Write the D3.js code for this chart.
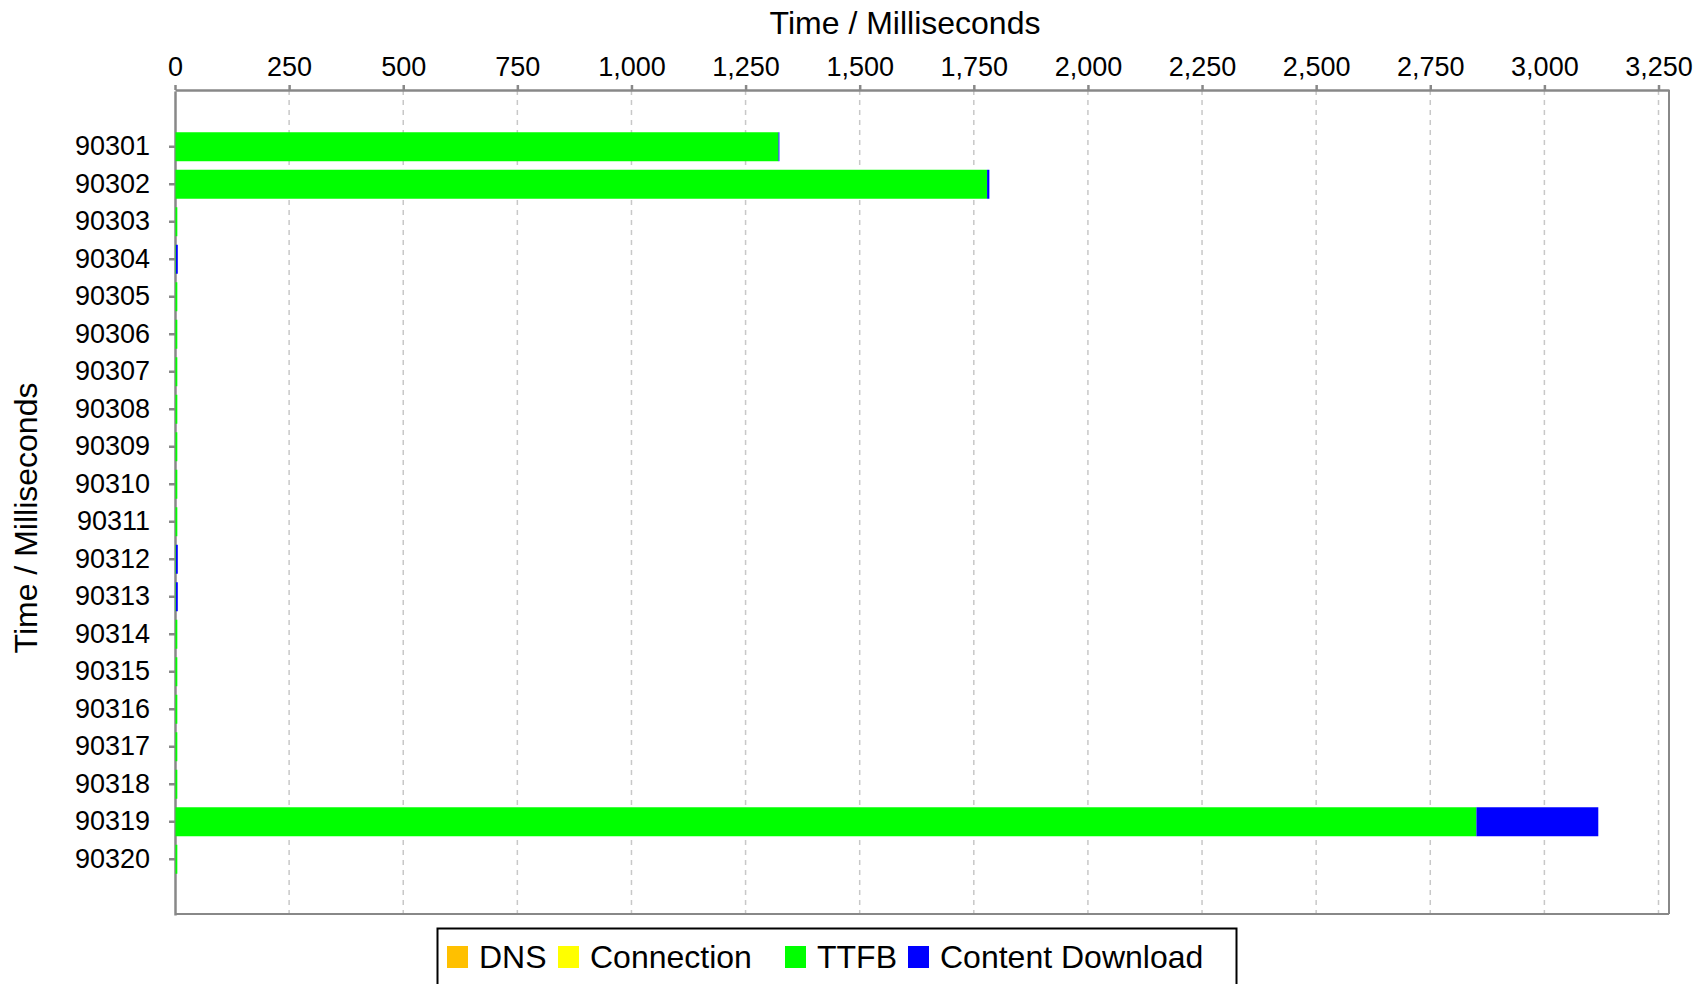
<!DOCTYPE html>
<html>
<head>
<meta charset="utf-8">
<script src="https://cdn.jsdelivr.net/npm/d3@7"></script>
<style>
  body { margin: 0; background: #fff; }
  text { font-family: "Liberation Sans", Arial, sans-serif; fill: #000; }
</style>
</head>
<body>
<div id="chart"></div>
<script>
// request ids down the side
var categories = ["90301", "90302", "90303", "90304", "90305", "90306", "90307", "90308", "90309", "90310",
                  "90311", "90312", "90313", "90314", "90315", "90316", "90317", "90318", "90319", "90320"];

// ms per phase
var dnsValues        = [0, 0, 0, 0, 0, 0, 0, 0, 0, 0, 0, 0, 0, 0, 0, 0, 0, 0, 0, 0];
var connectionValues = [0, 0, 0, 0, 0, 0, 0, 0, 0, 0, 0, 0, 0, 0, 0, 0, 0, 0, 0, 0];
var ttfbValues       = [1321, 1778, 4, 1, 4, 4, 4, 4, 4, 4, 4, 1, 1, 4, 4, 4, 4, 4, 2850, 4];
var downloadValues   = [2, 5, 0, 4, 0, 0, 0, 0, 0, 0, 0, 4, 4, 0, 0, 0, 0, 0, 267, 0];

var xTicks = [0, 250, 500, 750, 1000, 1250, 1500, 1750, 2000, 2250, 2500, 2750, 3000, 3250];
var xMax = 3273;

var seriesNames = ["DNS", "Connection", "TTFB", "Content Download"];
var seriesColors = ["#FFC000", "#FFFF00", "#00FF00", "#0000FF"];

var width = 1703, height = 984;
var margin = {top: 90, right: 34, bottom: 70, left: 175};

var table = categories.map(function(c, i) {
    return {id: c, "DNS": dnsValues[i], "Connection": connectionValues[i],
            "TTFB": ttfbValues[i], "Content Download": downloadValues[i]};
});

var stacked = d3.stack().keys(seriesNames)(table);

var xScale = d3.scaleLinear()
    .domain([0, xMax])
    .range([margin.left, width - margin.right]);

var yScale = d3.scaleBand()
    .domain(categories)
    .range([margin.top + 1, height - margin.bottom + 1])
    .paddingInner(0.227)
    .paddingOuter(1.1);

var color = d3.scaleOrdinal().domain(seriesNames).range(seriesColors);

var svg = d3.select("#chart").append("svg")
    .attr("width", width)
    .attr("height", height);

// dashed grid
svg.append("g")
    .selectAll("line")
    .data(xTicks.slice(1))
    .enter()
    .append("line")
        .attr("x1", function(d) { return xScale(d); })
        .attr("x2", function(d) { return xScale(d); })
        .attr("y1", margin.top)
        .attr("y2", height - margin.bottom)
        .style("stroke", "#c8c8c8")
        .style("stroke-width", 1.5)
        .style("stroke-dasharray", "5,5");

// frame: right + bottom
svg.append("line")
    .attr("x1", width - margin.right).attr("x2", width - margin.right)
    .attr("y1", margin.top).attr("y2", height - margin.bottom)
    .style("stroke", "#888").style("stroke-width", 2);
svg.append("line")
    .attr("x1", margin.left).attr("x2", width - margin.right)
    .attr("y1", height - margin.bottom).attr("y2", height - margin.bottom)
    .style("stroke", "#888").style("stroke-width", 2);

var xAxis = svg.append("g")
    .attr("transform", "translate(0," + margin.top + ")")
    .call(d3.axisTop(xScale).tickValues(xTicks).tickFormat(d3.format(",")).tickSize(5).tickSizeOuter(0).tickPadding(9));

var yAxis = svg.append("g")
    .attr("transform", "translate(" + margin.left + ",0)")
    .call(d3.axisLeft(yScale).tickSize(6).tickSizeOuter(0).tickPadding(19));

[xAxis, yAxis].forEach(function(ax) {
    ax.select(".domain").style("stroke", "#888").style("stroke-width", 2.5);
    ax.selectAll(".tick line").style("stroke", "#888").style("stroke-width", 2.5);
    ax.selectAll(".tick text")
        .style("font-family", "'Liberation Sans', Arial, sans-serif")
        .style("font-size", "27px")
        .style("fill", "#000");
});

// bars on top of the axis line, so the tiny ones still show
svg.append("g")
    .selectAll("g")
    .data(stacked)
    .enter()
    .append("g")
        .style("fill", function(d) { return color(d.key); })
    .selectAll("rect")
    .data(function(d) { return d; })
    .enter()
    .append("rect")
        .attr("x", function(d) { return xScale(d[0]) + 0.5; })
        .attr("y", function(d) { return yScale(d.data.id); })
        .attr("width", function(d) { return Math.max(0, xScale(d[1]) - xScale(d[0])); })
        .attr("height", yScale.bandwidth());

// titles
svg.append("text")
    .attr("x", 905)
    .attr("y", 34)
    .attr("text-anchor", "middle")
    .style("font-size", "32px")
    .text("Time / Milliseconds");

svg.append("text")
    .attr("transform", "translate(37,518) rotate(-90)")
    .attr("text-anchor", "middle")
    .style("font-size", "32px")
    .text("Time / Milliseconds");

// legend
var legendX = [447, 558, 785, 908];
var legend = svg.append("g");
legend.append("rect")
    .attr("x", 437.5).attr("y", 928.5)
    .attr("width", 799).attr("height", 80)
    .style("fill", "#fff")
    .style("stroke", "#000")
    .style("stroke-width", 2);

var items = legend.selectAll(".item")
    .data(seriesNames)
    .enter()
    .append("g")
        .attr("class", "item")
        .attr("transform", function(d, i) { return "translate(" + legendX[i] + ",0)"; });

items.append("rect")
    .attr("x", 0).attr("y", 946)
    .attr("width", 21).attr("height", 22)
    .style("fill", function(d) { return color(d); });

items.append("text")
    .attr("x", 32).attr("y", 968)
    .style("font-size", "32px")
    .text(function(d) { return d; });
</script>
</body>
</html>
